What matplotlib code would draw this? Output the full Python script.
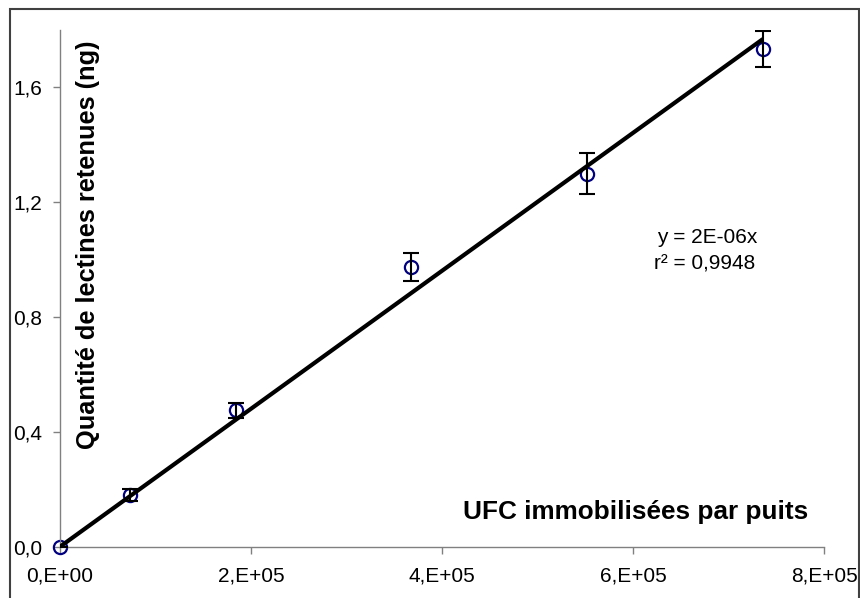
import matplotlib
matplotlib.use("Agg")
import matplotlib.pyplot as plt
import numpy as np
from matplotlib.patches import Rectangle

# data
UFC = [0, 73600, 184000, 368000, 552000, 736000]
QTE = [0.0, 0.18, 0.475, 0.974, 1.30, 1.735]
ERR = [0.0, 0.022, 0.025, 0.05, 0.07, 0.063]

X_TICKS = [0, 2e5, 4e5, 6e5, 8e5]
X_LABELS = ["0,E+00", "2,E+05", "4,E+05", "6,E+05", "8,E+05"]
Y_TICKS = [0.0, 0.4, 0.8, 1.2, 1.6]
Y_LABELS = ["0,0", "0,4", "0,8", "1,2", "1,6"]

EQ_TEXT = "y = 2E-06x"
R2_TEXT = "r² = 0,9948"

plt.rcParams.update({"font.family": ["Liberation Sans", "DejaVu Sans"]})

fig = plt.figure(figsize=(8.6, 5.98), dpi=100)
ax = fig.add_axes([0.0698, 0.0858, 0.8884, 0.864])

x = np.array(UFC, dtype=float)
y = np.array(QTE)

# regression through origin
slope = (x * y).sum() / (x * x).sum()
xs = np.array([0, x.max()])
ax.plot(xs, slope * xs, color="black", lw=3, zorder=3, solid_capstyle="butt")

ax.errorbar(x, y, yerr=ERR, fmt="none", ecolor="black", elinewidth=1.5,
            capsize=5.5, capthick=1.5, zorder=4)
ax.plot(x, y, "o", ms=9.5, mfc="none", mec="#000080", mew=1.6, zorder=2, clip_on=False)

ax.set_xlim(0, 8e5)
ax.set_ylim(0, 1.8)
ax.set_xticks(X_TICKS)
ax.set_xticklabels(X_LABELS)
ax.set_yticks(Y_TICKS)
ax.set_yticklabels(Y_LABELS)
ax.tick_params(axis="both", labelsize=15, color="#808080", length=5, width=1, direction="out")
ax.tick_params(axis="x", pad=9)
ax.tick_params(axis="y", pad=8)
ax.spines[["top", "right"]].set_visible(False)
for s in ["left", "bottom"]:
    ax.spines[s].set_color("#808080")
    ax.spines[s].set_linewidth(1)

ax.text(0.754, 0.067, "UFC immobilisées par puits", transform=ax.transAxes,
        ha="center", va="center", fontsize=18.8, fontweight="bold")
ax.text(0.0366, 0.584, "Quantité de lectines retenues (ng)", transform=ax.transAxes,
        ha="center", va="center", rotation=90, fontsize=18.3, fontweight="bold")

ax.text(0.781, 0.598, EQ_TEXT, transform=ax.transAxes, ha="left", va="center", fontsize=15)
ax.text(0.777, 0.548, R2_TEXT, transform=ax.transAxes, ha="left", va="center", fontsize=15)

fig.patches.append(Rectangle((10 / 860, -0.1), 849 / 860, 1.1 - 9 / 598,
                             transform=fig.transFigure, fill=False,
                             edgecolor="#404040", lw=1.5))

fig.savefig("out.png", dpi=100)
